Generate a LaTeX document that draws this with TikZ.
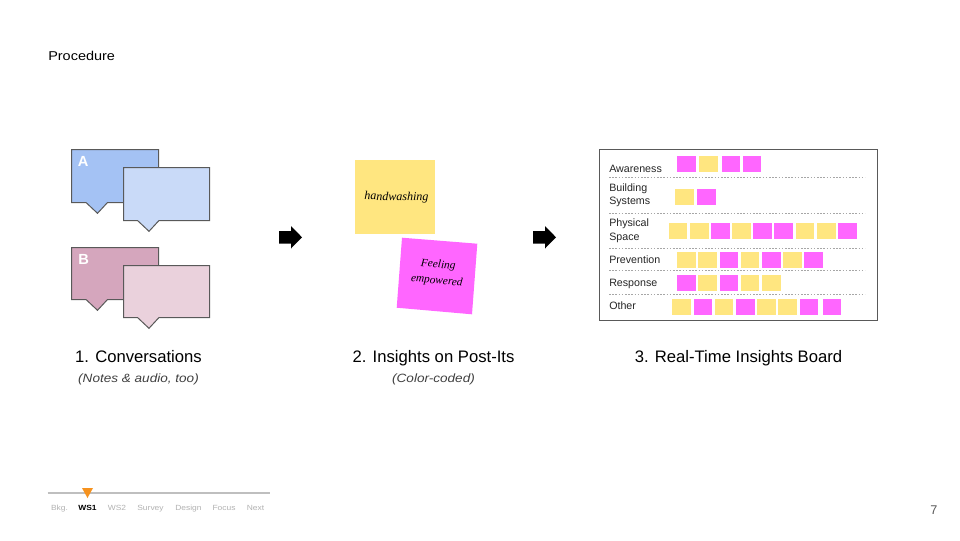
\documentclass[tikz,border=0pt]{standalone}
\usepackage{fontspec}
\setmainfont{Liberation Sans}
\newfontfamily\widefont[FakeStretch=1.13]{Liberation Sans}
\newfontfamily\handfont{Liberation Serif}
\definecolor{blueA}{HTML}{A4C2F4}
\definecolor{blueB}{HTML}{C9DAF8}
\definecolor{roseA}{HTML}{D5A6BD}
\definecolor{roseB}{HTML}{EAD1DC}
\definecolor{noteY}{HTML}{FFE680}
\definecolor{noteP}{HTML}{FF66FF}
\definecolor{edgeC}{HTML}{595959}
\definecolor{orangeC}{HTML}{F6921E}
\tikzset{
  bubble/.style={draw=edgeC,line width=0.75pt,line join=miter},
  ynote/.style={fill=noteY,draw=none},
  pnote/.style={fill=noteP,draw=none},
  rowline/.style={draw=black!35,line width=0.5pt,dash pattern=on 1.2pt off 1.2pt},
  rowlabel/.style={anchor=base west,inner sep=0pt,font=\fontsize{8}{9.5}\selectfont,align=left,text=black!85},
  head/.style={anchor=base,inner sep=0pt,font=\fontsize{12.5}{15}\selectfont},
  sub/.style={anchor=base,inner sep=0pt,font=\widefont\fontsize{9}{10}\selectfont\itshape,text=black!75},
  nav/.style={anchor=base,inner sep=0pt,font=\widefont\fontsize{5.6}{6}\selectfont,text=black!30},
}
\newcommand{\speech}[6]{% x1 y1 x2 y2 tailLeft fill
  \pgfmathsetmacro{\tl}{#5}
  \pgfmathsetmacro{\tr}{#5+21.5}
  \pgfmathsetmacro{\tm}{#5+11.5}
  \pgfmathsetmacro{\ty}{#4+10.8}
  \draw[bubble,fill=#6] (#1,#2) -- (#3,#2) -- (#3,#4) -- (\tr,#4) -- (\tm,\ty) -- (\tl,#4) -- (#1,#4) -- cycle;
}
\newcommand{\sq}[3]{% kind x y
  \fill[#1] (#2,#3) rectangle ++(18.5,16);
}
\newcommand{\bigarrow}[1]{%
  \fill[black] (#1,231) -- (#1+12,231) -- (#1+12,226) -- (#1+23,237.3) -- (#1+12,248.5) -- (#1+12,243.5) -- (#1,243.5) -- cycle;
}
\begin{document}
\begin{tikzpicture}[x=0.75pt,y=-0.75pt]
\useasboundingbox (0,0) rectangle (960,540);
\fill[white] (0,0) rectangle (960,540);

\node[anchor=base west,inner sep=0pt,font=\widefont\fontsize{9.6}{11}\selectfont] (title) at (48,60) {Procedure};

% speech bubbles
\speech{71.5}{149.5}{158.5}{202.5}{86}{blueA}
\speech{123.5}{167.5}{209.5}{220.5}{137.5}{blueB}
\speech{71.5}{247.5}{158.5}{299.5}{86}{roseA}
\speech{123.5}{265.5}{209.5}{317.5}{137.5}{roseB}
\node[anchor=base west,inner sep=0pt,text=white,font=\bfseries\fontsize{11}{12}\selectfont] (labA) at (77.5,166) {A};
\node[anchor=base west,inner sep=0pt,text=white,font=\bfseries\fontsize{11}{12}\selectfont] (labB) at (78,264) {B};

% block arrows
\bigarrow{279}
\bigarrow{533}

% post-its
\fill[noteY] (355,160) rectangle (435,233.5);
\node[inner sep=0pt,font=\handfont\itshape\fontsize{9}{11}\selectfont,rotate=-1] (hand) at (396.5,197.5) {handwashing};
\fill[noteP] (402,237.7) -- (477.3,243.7) -- (472,314.3) -- (396.7,307.7) -- cycle;
\node[inner sep=0pt,align=center,font=\handfont\itshape\fontsize{8.5}{12}\selectfont,rotate=-5] (feel) at (437.5,273) {Feeling\\empowered};

% board
\draw[draw=edgeC,line width=0.75pt] (599.5,149.5) rectangle (877.7,320.3);
\foreach \yy in {177.3,213.3,248.3,270.3,294.3}
  \draw[rowline] (609,\yy) -- (865,\yy);

\node[rowlabel] (r1) at (609,172) {Awareness};
\node[rowlabel] (r2) at (609,204.5) {Building\\[0.6pt]Systems};
\node[rowlabel] (r3) at (609,240) {Physical\\[0.6pt]Space};
\node[rowlabel] (r4) at (609,263) {Prevention};
\node[rowlabel] (r5) at (609,286) {Response};
\node[rowlabel] (r6) at (609,309) {Other};

\sq{pnote}{677}{156}\sq{ynote}{699.3}{156}\sq{pnote}{721.7}{156}\sq{pnote}{742.7}{156}
\sq{ynote}{675}{189.3}\sq{pnote}{697.3}{189.3}
\sq{ynote}{668.7}{222.7}\sq{ynote}{690}{222.7}\sq{pnote}{711}{222.7}\sq{ynote}{732}{222.7}\sq{pnote}{753.3}{222.7}\sq{pnote}{774.3}{222.7}\sq{ynote}{795.7}{222.7}\sq{ynote}{817}{222.7}\sq{pnote}{838}{222.7}
\sq{ynote}{677}{251.7}\sq{ynote}{698.3}{251.7}\sq{pnote}{719.7}{251.7}\sq{ynote}{740.7}{251.7}\sq{pnote}{762}{251.7}\sq{ynote}{783}{251.7}\sq{pnote}{804.3}{251.7}
\sq{pnote}{677}{274.7}\sq{ynote}{698.3}{274.7}\sq{pnote}{719.7}{274.7}\sq{ynote}{740.7}{274.7}\sq{ynote}{762}{274.7}
\sq{ynote}{672.3}{299}\sq{pnote}{693.7}{299}\sq{ynote}{714.7}{299}\sq{pnote}{736}{299}\sq{ynote}{757.3}{299}\sq{ynote}{778.3}{299}\sq{pnote}{799.7}{299}\sq{pnote}{822.7}{299}

% captions
\node[head] (h1) at (138.5,362) {1. Conversations};
\node[sub] (s1) at (138.5,382) {(Notes \& audio, too)};
\node[head] (h2) at (433.5,362) {2. Insights on Post-Its};
\node[sub] (s2) at (433.5,382) {(Color-coded)};
\node[head] (h3) at (738.5,362) {3. Real-Time Insights Board};

% navigation
\draw[draw=black!25,line width=1.5pt] (47.5,493) -- (269.5,493);
\fill[orangeC] (82,488) -- (93,488) -- (87.5,498) -- cycle;
\node[nav] (n1) at (59.5,510) {Bkg.};
\node[nav,text=black,font=\widefont\bfseries\fontsize{5.6}{6}\selectfont] (n2) at (87.5,510) {WS1};
\node[nav] (n3) at (117,510) {WS2};
\node[nav] (n4) at (150.5,510) {Survey};
\node[nav] (n5) at (188.5,510) {Design};
\node[nav] (n6) at (224,510) {Focus};
\node[nav] (n7) at (255.5,510) {Next};

\node[anchor=base,inner sep=0pt,text=black!65,font=\fontsize{9.5}{11}\selectfont] (page) at (934,514.5) {7};
\end{tikzpicture}
\end{document}
